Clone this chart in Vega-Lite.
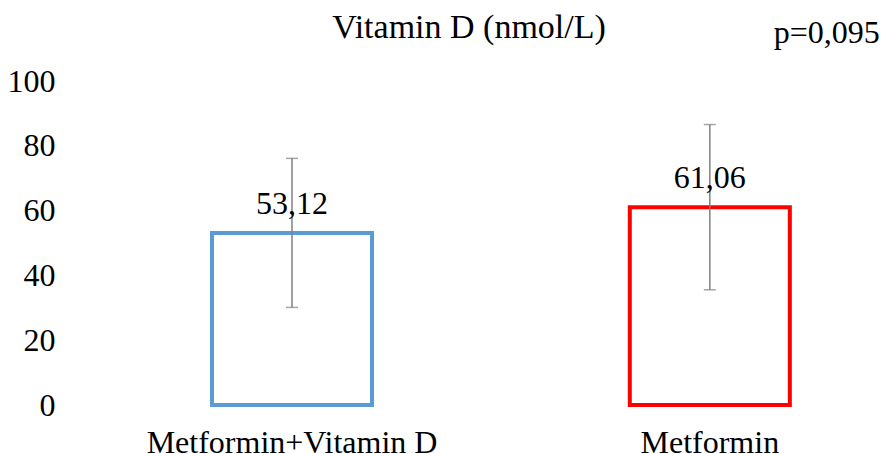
{
  "$schema": "https://vega.github.io/schema/vega-lite/v6.json",
  "width": 811,
  "height": 324,
  "autosize": "none",
  "padding": {"left": 70, "top": 81, "right": 0, "bottom": 49},
  "background": "white",
  "config": {"view": {"stroke": null}, "font": "Times New Roman, Liberation Serif, serif"},
  "data": {"values": [
    {"group": "Metformin+Vitamin D", "mean": 53.12, "low": 30.12, "high": 76.12, "label": "53,12"},
    {"group": "Metformin", "mean": 61.06, "low": 35.56, "high": 86.56, "label": "61,06"}
  ]},
  "encoding": {
    "x": {"field": "group", "type": "nominal", "sort": null,
      "scale": {"paddingInner": 0.617, "paddingOuter": 0.279, "align": 0.609},
      "axis": {"title": null, "domain": false, "ticks": false, "labelAngle": 0, "labelLimit": 500, "labelFont": "Times New Roman, Liberation Serif, serif", "labelFontSize": 32, "labelColor": "black", "labelBaseline": "alphabetic", "labelPadding": 47}}
  },
  "layer": [
    {
      "mark": {"type": "bar", "filled": false, "strokeWidth": 4, "fill": null},
      "encoding": {
        "y": {"field": "mean", "type": "quantitative", "scale": {"domain": [0, 100]},
          "axis": {"title": null, "values": [0, 20, 40, 60, 80, 100], "grid": false, "domain": false, "ticks": false, "labelPadding": 15, "labelFont": "Times New Roman, Liberation Serif, serif", "labelFontSize": 32, "labelColor": "black"}},
        "stroke": {"field": "group", "type": "nominal", "scale": {"domain": ["Metformin+Vitamin D", "Metformin"], "range": ["#5B9BD5", "#FF0000"]}, "legend": null}
      }
    },
    {
      "mark": {"type": "rule", "color": "#808080", "strokeWidth": 1.5},
      "encoding": {"y": {"field": "low", "type": "quantitative"}, "y2": {"field": "high"}}
    },
    {
      "mark": {"type": "tick", "color": "#808080", "thickness": 1.5, "size": 12, "orient": "horizontal"},
      "encoding": {"y": {"field": "low", "type": "quantitative"}}
    },
    {
      "mark": {"type": "tick", "color": "#808080", "thickness": 1.5, "size": 12, "orient": "horizontal"},
      "encoding": {"y": {"field": "high", "type": "quantitative"}}
    },
    {
      "mark": {"type": "text", "font": "Times New Roman, Liberation Serif, serif", "fontSize": 32, "color": "black", "baseline": "alphabetic", "dy": -19},
      "encoding": {"y": {"field": "mean", "type": "quantitative"}, "text": {"field": "label"}}
    },
    {
      "data": {"values": [{"p": "p=0,095"}]},
      "mark": {"type": "text", "font": "Times New Roman, Liberation Serif, serif", "fontSize": 32, "color": "black", "baseline": "alphabetic", "dx": 117, "dy": -38},
      "encoding": {"x": {"datum": "Metformin"}, "y": {"datum": 100}, "text": {"field": "p"}}
    },
    {
      "data": {"values": [{"t": "Vitamin D (nmol/L)"}]},
      "mark": {"type": "text", "font": "Times New Roman, Liberation Serif, serif", "fontSize": 34, "color": "black", "baseline": "alphabetic", "dx": 177, "dy": -43},
      "encoding": {"x": {"datum": "Metformin+Vitamin D"}, "y": {"datum": 100}, "text": {"field": "t"}}
    }
  ]
}
